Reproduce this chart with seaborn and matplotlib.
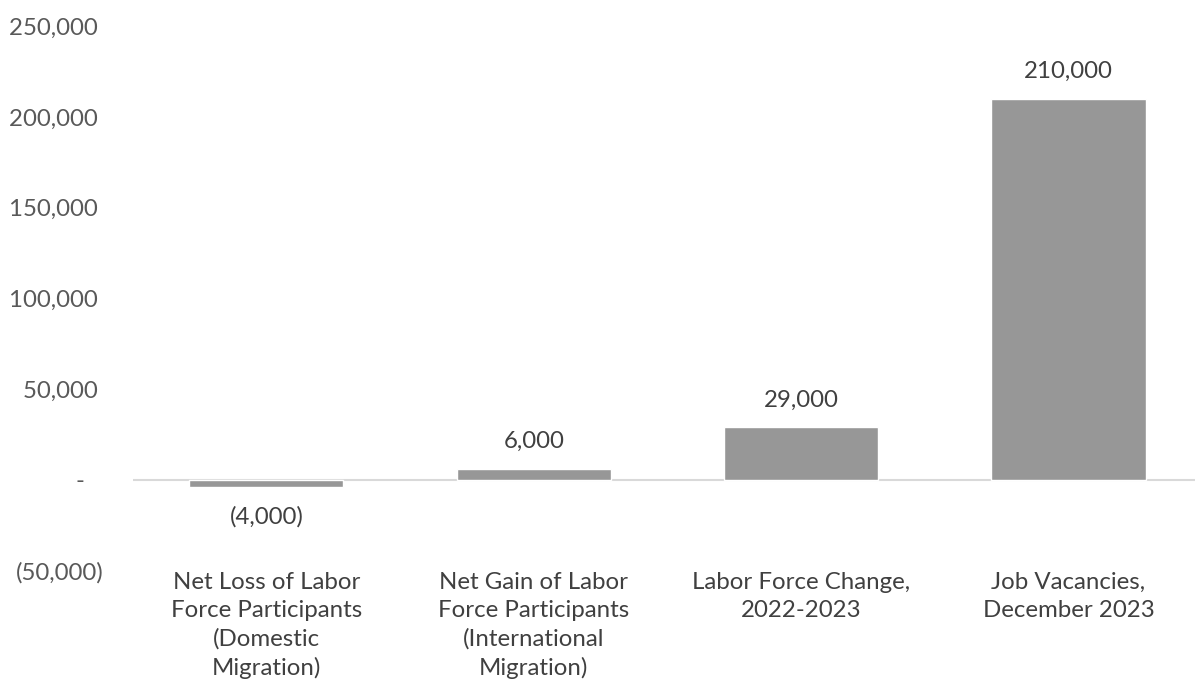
import matplotlib
matplotlib.use("Agg")
import matplotlib.pyplot as plt
import seaborn as sns
import pandas as pd

categories = [
    "Net Loss of Labor\nForce Participants\n(Domestic\nMigration)",
    "Net Gain of Labor\nForce Participants\n(International\nMigration)",
    "Labor Force Change,\n2022-2023",
    "Job Vacancies,\nDecember 2023",
]
values = [-4000, 6000, 29000, 210000]
y_ticks = [-50000, 0, 50000, 100000, 150000, 200000, 250000]

sns.set_theme(style="white")
plt.rcParams["font.family"] = ["Lato", "DejaVu Sans"]

df = pd.DataFrame({"category": categories, "value": values})

fig = plt.figure(figsize=(11.95, 6.88), dpi=100)
ax = fig.add_axes([0.111, 0.171, 0.895, 0.791])

sns.barplot(data=df, x="category", y="value", color="#979797",
            saturation=1, width=0.577, ax=ax)

ax.set_ylim(-50000, 250000)
ax.set_xlim(-0.5, 3.5)
ax.axhline(0, color="#d9d9d9", lw=1.5, zorder=0.5)

def fmt(v):
    if v == 0:
        return "-   "
    if v < 0:
        return f"({-v:,})"
    return f"{v:,} "

FS = 17.3
ax.set_yticks(y_ticks)
ax.set_yticklabels([fmt(v) for v in y_ticks])
ax.tick_params(axis="y", length=0, pad=21, labelsize=FS, labelcolor="#595959")
ax.tick_params(axis="x", length=0, pad=1, labelsize=FS, labelcolor="#404040")
for lab in ax.get_xticklabels():
    lab.set_linespacing(1.42)
    lab.set_va("top")

for i, v in enumerate(values):
    label = f"({-v:,})" if v < 0 else f"{v:,}"
    off = 12 if v >= 0 else -14
    ax.annotate(label, (i, v), xytext=(0, off), textcoords="offset points",
                ha="center", va="bottom" if v >= 0 else "top",
                fontsize=FS, color="#404040")

ax.set_xlabel("")
ax.set_ylabel("")
for s in ax.spines.values():
    s.set_visible(False)

fig.savefig("out.png", dpi=100)
